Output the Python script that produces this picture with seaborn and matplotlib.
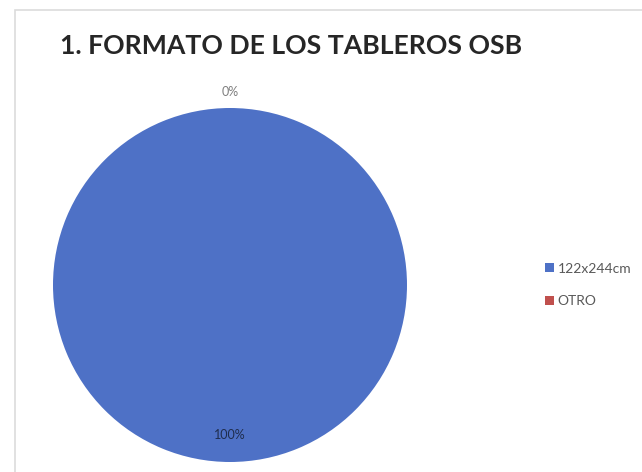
import numpy as np
import matplotlib
matplotlib.use("Agg")
import matplotlib.pyplot as plt
import seaborn as sns
from matplotlib.patches import Rectangle

# datos
categorias = ["122x244cm", "OTRO"]
valores = [100, 0]
colores = ["#4e71c6", "#c0504d"]
titulo = "1. FORMATO DE LOS TABLEROS OSB"

sns.set_theme(style="white")
plt.rcParams["font.family"] = ["Lato", "DejaVu Sans"]

fig = plt.figure(figsize=(6.42, 4.72), dpi=100)
fig.patch.set_facecolor("white")

# marco tenue del área del gráfico
fig.patches.append(Rectangle((15 / 642, -0.1), 1.0, (472 - 10) / 472 + 0.1,
                             transform=fig.transFigure, fill=False,
                             edgecolor="#dcdcdc", linewidth=1.2))

ax = fig.add_axes([53 / 642, (472 - 462) / 472, 354 / 642, 354 / 472])
total = sum(valores)
wedges, _ = ax.pie(valores, colors=colores, startangle=90, counterclock=False,
                   radius=1.0, wedgeprops=dict(linewidth=0))
ax.set_xlim(-1, 1)
ax.set_ylim(-1, 1)
ax.set_aspect("equal")

# etiquetas de porcentaje
for w, v in zip(wedges, valores):
    ang = np.deg2rad((w.theta1 + w.theta2) / 2)
    pct = 100 * v / total
    if pct > 0:
        r, color = 0.85, "#1f2d4d"
    else:
        r, color = 1.09, "#7f7f7f"
    ax.text(r * np.cos(ang), r * np.sin(ang), f"{pct:.0f}%",
            ha="center", va="center", fontsize=9, color=color)

fig.text(60 / 642, 1 - 46 / 472, titulo, fontsize=19.2, fontweight="bold",
         color="#262626", ha="left", va="center")

leg = fig.legend(wedges, categorias, loc="center left",
                 bbox_to_anchor=(532 / 642, 1 - 285 / 472), frameon=False,
                 fontsize=10, handlelength=0.65, handleheight=0.65,
                 handletextpad=0.3, labelspacing=1.5)
for t in leg.get_texts():
    t.set_color("#595959")

fig.savefig("out.png", dpi=100)
